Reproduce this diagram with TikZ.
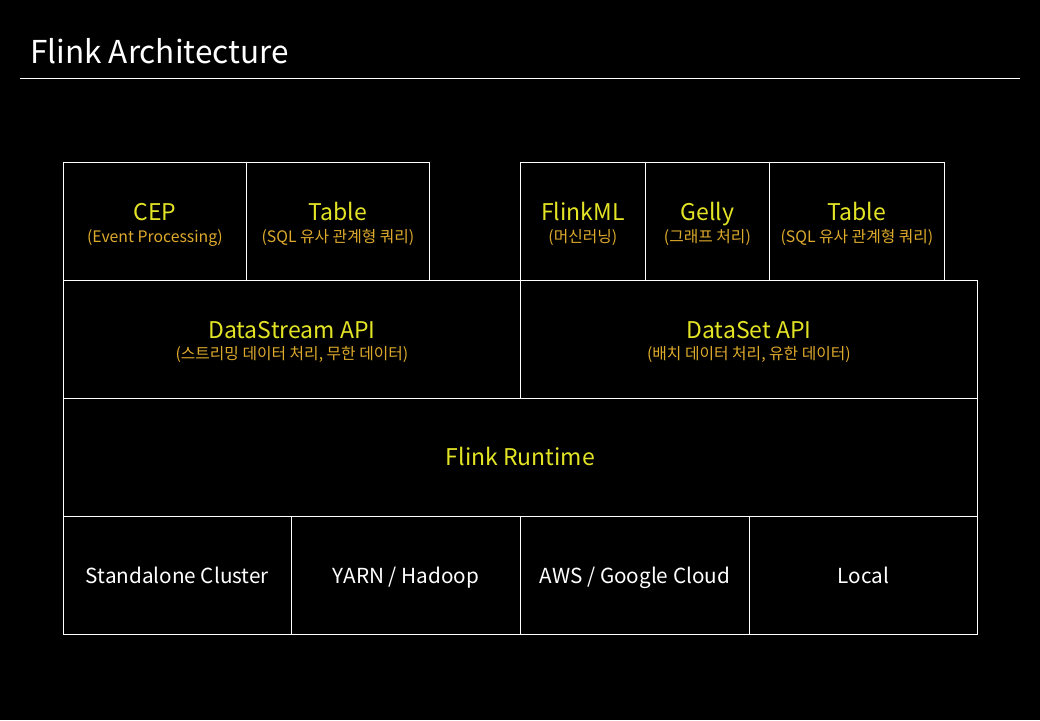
\documentclass[tikz,border=0pt]{standalone}
\usepackage{fontspec}
\setmainfont{Noto Sans CJK KR}
\definecolor{nameyellow}{RGB}{228,228,38}
\definecolor{notegold}{RGB}{222,170,44}

\begin{document}
\begin{tikzpicture}[x=1pt,y=-1pt,
	cell/.style={draw=white, line width=0.8pt, inner sep=0pt, anchor=north west, minimum height=118pt},
	libname/.style={anchor=base, inner sep=0pt, text=nameyellow, font=\fontsize{23}{26}\selectfont},
	libnote/.style={anchor=base, inner sep=0pt, text=notegold, font=\fontsize{15.8}{18}\selectfont},
	deploytext/.style={anchor=base, inner sep=0pt, text=white, font=\fontsize{20.7}{24}\selectfont}]
	\fill[black] (0,0) rectangle (1040,720);
	\useasboundingbox (0,0) rectangle (1040,720);
	% title
	\node[anchor=base west, inner sep=0pt, text=white, font=\fontsize{31.5}{34}\selectfont] (title) at (30,63) {Flink Architecture};
	\draw[white, line width=0.8pt] (20,78) -- (1020,78);
	% libraries
	\node[cell, minimum width=183pt] (cep) at (63,162) {};
	\node[cell, minimum width=183pt] (tableS) at (246,162) {};
	\node[cell, minimum width=125pt] (flinkml) at (520,162) {};
	\node[cell, minimum width=124pt] (gelly) at (645,162) {};
	\node[cell, minimum width=175pt] (tableB) at (769,162) {};
	\node[libname] (cepName) at ([yshift=1pt]cep.center) {CEP};
	\node[libnote] (cepNote) at ([yshift=-21pt]cep.center) {(Event Processing)};
	\node[libname] (tableSName) at ([yshift=1pt]tableS.center) {Table};
	\node[libnote] (tableSNote) at ([yshift=-21pt]tableS.center) {(SQL 유사 관계형 쿼리)};
	\node[libname] (flinkmlName) at ([yshift=1pt]flinkml.center) {FlinkML};
	\node[libnote] (flinkmlNote) at ([yshift=-21pt]flinkml.center) {(머신러닝)};
	\node[libname] (gellyName) at ([yshift=1pt]gelly.center) {Gelly};
	\node[libnote] (gellyNote) at ([yshift=-21pt]gelly.center) {(그래프 처리)};
	\node[libname] (tableBName) at ([yshift=1pt]tableB.center) {Table};
	\node[libnote] (tableBNote) at ([yshift=-21pt]tableB.center) {(SQL 유사 관계형 쿼리)};
	% apis
	\node[cell, minimum width=457pt] (datastream) at (63,280) {};
	\node[cell, minimum width=457pt] (dataset) at (520,280) {};
	\node[libname] (datastreamName) at ([yshift=1pt]datastream.center) {DataStream API};
	\node[libnote] (datastreamNote) at ([yshift=-20pt]datastream.center) {(스트리밍 데이터 처리, 무한 데이터)};
	\node[libname] (datasetName) at ([yshift=1pt]dataset.center) {DataSet API};
	\node[libnote] (datasetNote) at ([yshift=-20pt]dataset.center) {(배치 데이터 처리, 유한 데이터)};
	% runtime
	\node[cell, minimum width=914pt] (runtime) at (63,398) {};
	\node[libname] (runtimeName) at ([yshift=-8pt]runtime.center) {Flink Runtime};
	% deployment
	\node[cell, minimum width=228pt] (standalone) at (63,516) {};
	\node[cell, minimum width=229pt] (yarn) at (291,516) {};
	\node[cell, minimum width=229pt] (aws) at (520,516) {};
	\node[cell, minimum width=228pt] (local) at (749,516) {};
	\node[deploytext] (standaloneName) at ([yshift=-8pt]standalone.center) {Standalone Cluster};
	\node[deploytext] (yarnName) at ([yshift=-8pt]yarn.center) {YARN / Hadoop};
	\node[deploytext] (awsName) at ([yshift=-8pt]aws.center) {AWS / Google Cloud};
	\node[deploytext] (localName) at ([yshift=-8pt]local.center) {Local};
\end{tikzpicture}
\end{document}
